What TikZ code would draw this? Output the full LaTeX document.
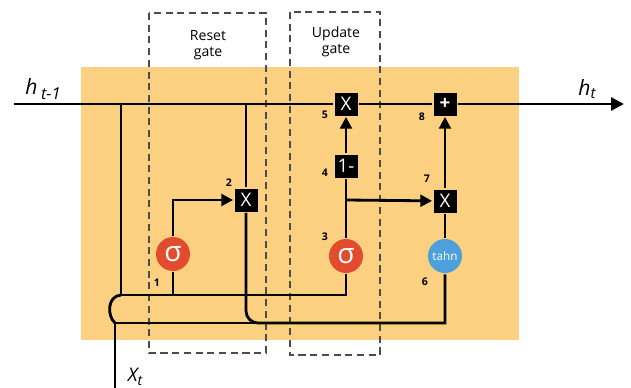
\documentclass[tikz,border=0pt]{standalone}
\usepackage{fontspec}
\setmainfont{Open Sans}
\usetikzlibrary{arrows.meta}
\definecolor{cellbg}{RGB}{251,208,128}
\definecolor{sigred}{RGB}{226,75,46}
\definecolor{tanhblue}{RGB}{78,160,220}
\begin{document}
\begin{tikzpicture}[x=0.03cm,y=-0.03cm,line width=2.4pt,
        opbox/.style={rectangle,fill=black,text=white,minimum size=0.69cm,inner sep=0pt,font=\fontsize{16}{16}\selectfont},
        sigmabox/.style={circle,fill=sigred,text=white,minimum size=1.02cm,inner sep=0pt,font=\fontsize{24}{24}\selectfont},
        tanhbox/.style={circle,fill=tanhblue,text=white,minimum size=1.02cm,inner sep=0pt,font=\fontsize{10}{10}\selectfont},
        stepnum/.style={inner sep=0pt,font=\bfseries\fontsize{9}{9}\selectfont},
        gatebox/.style={draw=black!70,line width=1.1pt,dash pattern=on 6pt off 4pt},
        flow/.style={-{Triangle[length=10pt,width=10pt]}},
        bigflow/.style={-{Triangle[length=11pt,width=11pt]}}]
    \useasboundingbox (0,0) rectangle (631,388);
    \fill[cellbg] (81,67) rectangle (519,340);
    \draw[gatebox] (149,13) rectangle (266,353);
    \draw[gatebox] (290,12) rectangle (380,355);
    \node[align=center,font=\fontsize{12}{14}\selectfont] (resetlbl) at (208,45) {Reset\\gate};
    \node[align=center,font=\fontsize{12}{14}\selectfont] (updatelbl) at (336,42) {Update\\gate};
    % operations
    \node[opbox] (mulupd) at (346,104) {X};
    \node[opbox,font=\bfseries\fontsize{16}{16}\selectfont] (plus) at (445,104) {+};
    \node[opbox] (oneminus) at (346,166) {1-};
    \node[opbox] (mulrst) at (246,200) {X};
    \node[opbox] (mulcand) at (445,201) {X};
    \node[sigmabox] (sigr) at (173,254) {σ};
    \node[sigmabox] (sigz) at (346,256) {σ};
    \node[tanhbox] (tanh) at (445,256) {tahn};
    % points on the lines
    \coordinate (hin) at (14,104);
    \coordinate (hout) at (624,104);
    \coordinate (tapa) at (121,104);
    \coordinate (tapb) at (246,104);
    \coordinate (gin) at (121,295);
    \coordinate (sigrin) at (173,295);
    \coordinate (sigzin) at (346,295);
    \coordinate (xin) at (115,388);
    \coordinate (xjoin) at (115,323);
    \coordinate (bend) at (246,311);
    \coordinate (merge) at (258,323);
    \coordinate (candin) at (445,323);
    \coordinate (split) at (346,200);
    % connections
    \draw (hin) -- (mulupd) -- (plus);
    \draw[bigflow] (plus) -- (hout);
    \draw (tapa) -- (gin) -- (sigzin) -- (sigz);
    \draw (sigrin) -- (sigr);
    \draw[flow] (sigr) |- (mulrst);
    \draw (tapb) -- (mulrst);
    \draw (mulrst) -- (bend) to[out=-90,in=180] (merge) -- (candin) -- (tanh);
    \draw (xin) -- (xjoin) -- (merge);
    \draw (xjoin) .. controls (107,316) and (107,296) .. (gin);
    \draw (sigz) -- (oneminus);
    \draw[flow] (oneminus) -- (mulupd);
    \draw[flow] (split) -- (mulcand);
    \draw (tanh) -- (mulcand);
    \draw[flow] (mulcand) -- (plus);
    % step numbers
    \node[stepnum] (n1) at (157,283) {1};
    \node[stepnum] (n2) at (229,183) {2};
    \node[stepnum] (n3) at (325,237) {3};
    \node[stepnum] (n4) at (325,173) {4};
    \node[stepnum] (n5) at (325,115) {5};
    \node[stepnum] (n6) at (425,282) {6};
    \node[stepnum] (n7) at (427,179) {7};
    \node[stepnum] (n8) at (422,117) {8};
    % inputs and output
    \node[font=\fontsize{18}{18}\selectfont\itshape] (hprev) at (43,89) {h\,\raisebox{-4pt}{\fontsize{14}{14}\selectfont t-1}};
    \node[font=\fontsize{18}{18}\selectfont\itshape] (hnext) at (587,89) {h\raisebox{-3pt}{\fontsize{13}{13}\selectfont t}};
    \node[font=\fontsize{16}{16}\selectfont\itshape] (xlbl) at (135,377) {X\raisebox{-3pt}{\fontsize{12}{12}\selectfont t}};
\end{tikzpicture}
\end{document}
